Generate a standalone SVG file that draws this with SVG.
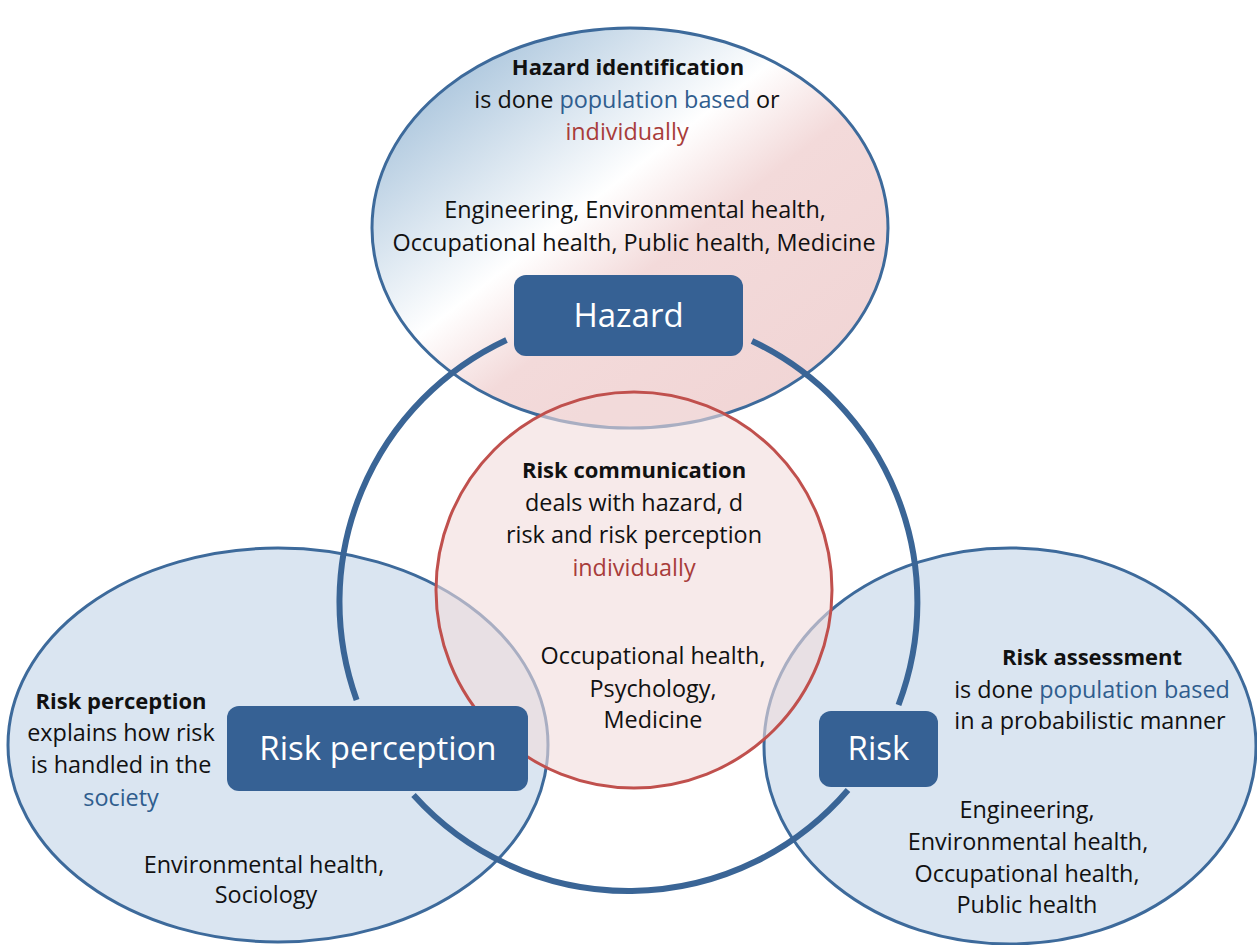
<svg xmlns="http://www.w3.org/2000/svg" width="1257" height="945" viewBox="0 0 1257 945">
<defs>
<linearGradient id="hazGrad" x1="0" y1="0" x2="1" y2="1">
<stop offset="0" stop-color="#8fb0cc"/>
<stop offset="0.15" stop-color="#b3cbe0"/>
<stop offset="0.43" stop-color="#ffffff"/>
<stop offset="0.57" stop-color="#f3dada"/>
<stop offset="1" stop-color="#f0d3d3"/>
</linearGradient>
<style>
.ell{stroke:#3d6a9b;stroke-width:3}
.blueFill{fill:#dae5f1}
.box{fill:#366194}
.boxText{font-family:"Open Sans","Liberation Sans",sans-serif;font-size:33px;fill:#ffffff;text-anchor:middle}
.t{font-family:"Open Sans","Liberation Sans",sans-serif;font-size:23.4px;fill:#111111;text-anchor:middle}
.b{font-weight:bold;font-size:22px}
.blue{fill:#2f5d8e}
.red{fill:#a83c3a}
.arc{fill:none;stroke:#3a6596;stroke-width:6}
</style>
</defs>
<rect width="1257" height="945" fill="#ffffff"/>

<g id="hazard-area">
<ellipse cx="630" cy="228" rx="258" ry="200" fill="url(#hazGrad)" class="ell"/>
</g>
<g id="risk-perception-area">
<ellipse cx="278" cy="745" rx="270" ry="197" class="ell blueFill"/>
</g>
<g id="risk-area">
<ellipse cx="1010" cy="746" rx="246" ry="198" class="ell blueFill"/>
</g>
<g id="risk-communication">
<circle cx="634" cy="590" r="198" fill="#f2dcdc" fill-opacity="0.6" stroke="#c0504d" stroke-width="3"/>
</g>

<g id="connectors">
<path class="arc" d="M506.5,340 A289,289 0 0 0 356.6,700"/>
<path class="arc" d="M413.5,795 A289,289 0 0 0 848,790"/>
<path class="arc" d="M898.5,705 A289,289 0 0 0 752,341"/>
</g>

<g id="hazard">
<rect class="box" x="514" y="275" width="229" height="81" rx="12"/>
<text class="boxText" x="628.5" y="327">Hazard</text>
</g>
<g id="risk-perception">
<rect class="box" x="227" y="706" width="301" height="85" rx="12"/>
<text class="boxText" x="378" y="760">Risk perception</text>
</g>
<g id="risk">
<rect class="box" x="819" y="711" width="119" height="76" rx="12"/>
<text class="boxText" x="878.5" y="760">Risk</text>
</g>

<g id="hazard-text">
<text class="t b" x="628" y="75">Hazard identification</text>
<text class="t" x="627" y="108">is done <tspan class="blue">population based</tspan> or</text>
<text class="t red" x="627" y="140">individually</text>
<text class="t" x="635" y="218">Engineering, Environmental health,</text>
<text class="t" x="634" y="251">Occupational health, Public health, Medicine</text>
</g>
<g id="communication-text">
<text class="t b" x="634" y="478">Risk communication</text>
<text class="t" x="634" y="511">deals with hazard, d</text>
<text class="t" x="634" y="543">risk and risk perception</text>
<text class="t red" x="634" y="576">individually</text>
<text class="t" x="653" y="664">Occupational health,</text>
<text class="t" x="653" y="697">Psychology,</text>
<text class="t" x="653" y="728">Medicine</text>
</g>
<g id="perception-text">
<text class="t b" x="121" y="709">Risk perception</text>
<text class="t" x="121" y="741">explains how risk</text>
<text class="t" x="121" y="773">is handled in the</text>
<text class="t blue" x="121" y="806">society</text>
<text class="t" x="264" y="873">Environmental health,</text>
<text class="t" x="266" y="903">Sociology</text>
</g>
<g id="assessment-text">
<text class="t b" x="1092" y="665">Risk assessment</text>
<text class="t" x="1092" y="698">is done <tspan class="blue">population based</tspan></text>
<text class="t" x="1090" y="729">in a probabilistic manner</text>
<text class="t" x="1027" y="818">Engineering,</text>
<text class="t" x="1028" y="850">Environmental health,</text>
<text class="t" x="1027" y="882">Occupational health,</text>
<text class="t" x="1027" y="913">Public health</text>
</g>
</svg>
